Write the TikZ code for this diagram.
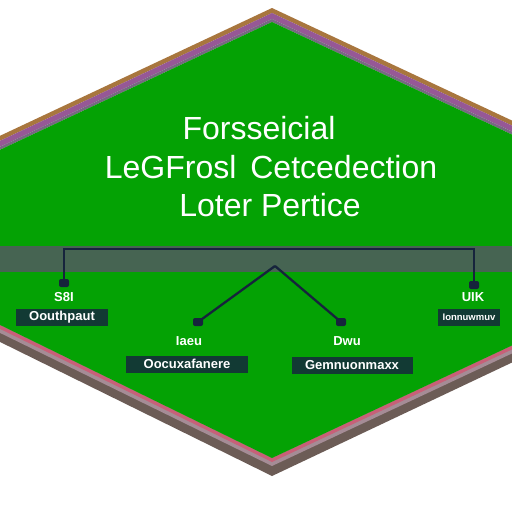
\documentclass[tikz,border=0pt]{standalone}
\usepackage{fontspec}
\setmainfont{Liberation Sans}
\begin{document}
\begin{tikzpicture}[x=1pt,y=-1pt,
  title/.style={text=white,font=\fontsize{32}{32}\selectfont,inner sep=0pt,anchor=center},
  tag/.style={text=white,font=\bfseries\fontsize{13}{13}\selectfont,inner sep=0pt},
  labbox/.style={fill=boxcol,text=white,font=\bfseries\fontsize{13}{13}\selectfont,inner sep=0pt,minimum height=17pt},
  blob/.style={fill=navy,rounded corners=2pt,minimum width=10pt,minimum height=8pt,inner sep=0pt},
  conn/.style={draw=navy,line width=2.3pt}]
\definecolor{grn}{RGB}{4,162,4}
\definecolor{bandcol}{RGB}{70,100,82}
\definecolor{navy}{RGB}{22,36,60}
\definecolor{boxcol}{RGB}{18,58,52}
\definecolor{brownb}{RGB}{168,118,62}
\definecolor{purpb}{RGB}{150,88,150}
\definecolor{grayb}{RGB}{120,104,130}
\definecolor{pinkb}{RGB}{200,96,120}
\definecolor{lgrayb}{RGB}{165,140,150}
\definecolor{darkb}{RGB}{108,92,86}
\useasboundingbox (0,0) rectangle (512,512);
\fill[white] (0,0) rectangle (512,512);
\begin{scope}
\clip (0,0) rectangle (512,512);
% top bands
\fill[brownb] (-10,140.5)--(272,8)--(530,129)--(530,134)--(272,13)--(-10,145.5)--cycle;
\fill[purpb] (-10,145.5)--(272,13)--(530,134)--(530,140)--(272,19)--(-10,151.5)--cycle;
\fill[grayb] (-10,151.5)--(272,19)--(530,140)--(530,143)--(272,22)--(-10,154.5)--cycle;
% bottom bands
\fill[darkb] (-10,320)--(272,458)--(530,337)--(530,354)--(272,476)--(-10,337)--cycle;
\fill[lgrayb] (-10,320)--(272,458)--(530,337)--(530,345)--(272,466)--(-10,328)--cycle;
\fill[pinkb] (-10,320)--(272,458)--(530,337)--(530,341)--(272,462)--(-10,324)--cycle;
% green body
\fill[grn] (-10,154.5)--(272,22)--(530,143)--(530,337)--(272,458)--(-10,320)--cycle;
\clip (-10,154.5)--(272,22)--(530,143)--(530,337)--(272,458)--(-10,320)--cycle;
\fill[bandcol] (0,246) rectangle (512,272);
\end{scope}
% title
\node[title] (t1) at (259,128) {Forsseicial};
\node[title] (t2) at (271,167) {LeGFrosl\hspace{14pt}Cetcedection};
\node[title] (t3) at (270,205) {Loter Pertice};
% connector ends
\node[blob] (e1) at (64,283) {};
\node[blob] (e2) at (198,322) {};
\node[blob] (e3) at (341,322) {};
\node[blob] (e4) at (474,285) {};
\coordinate (top) at (270,249);
\coordinate (hub) at (275,266);
\draw[conn] (e1.north) |- (top) -| (e4.north);
\draw[conn] (hub) -- (e2.center);
\draw[conn] (hub) -- (e3.center);
% labels
\node[tag] (s1) at (64,297) {S8I};
\node[labbox,minimum width=92pt] (b1) at (62,317) {Oouthpaut};
\node[tag] (s2) at (189,341) {Iaeu};
\node[labbox,minimum width=122pt] (b2) at (187,364) {Oocuxafanere};
\node[tag] (s3) at (347,341) {Dwu};
\node[labbox,minimum width=121pt] (b3) at (352,365) {Gemnuonmaxx};
\node[tag] (s4) at (473,297) {UIK};
\node[labbox,minimum width=62pt,font=\bfseries\fontsize{9.5}{10}\selectfont] (b4) at (469,317) {Ionnuwmuv};
\end{tikzpicture}
\end{document}
